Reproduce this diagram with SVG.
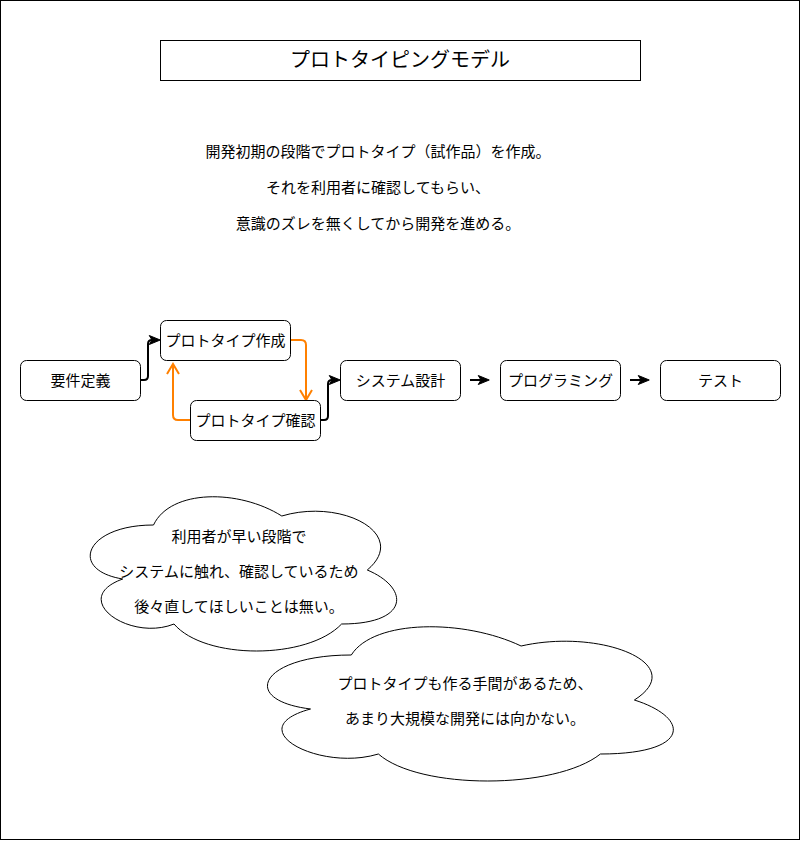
<svg xmlns="http://www.w3.org/2000/svg" width="801" height="841" viewBox="0 0 801 841">
<style>
text{font-family:"Liberation Sans","Noto Sans CJK JP",sans-serif;font-size:15px;fill:#000;text-anchor:middle}
.box{fill:#fff;stroke:#000;stroke-width:1}
.cloud{fill:#fff;stroke:#000;stroke-width:1}
.blk{fill:none;stroke:#000;stroke-width:2}
.org{fill:none;stroke:#FF8000;stroke-width:2}
.title{font-size:20px}
</style>
<defs>
<marker id="ab" markerUnits="userSpaceOnUse" markerWidth="14" markerHeight="12" refX="2.75" refY="4.5" orient="auto" overflow="visible">
<path d="M0,0 L11,4.5 L0,9 L2.75,4.5 Z" fill="#000" stroke="#000" stroke-width="1" stroke-linejoin="miter"/>
</marker>
<marker id="ao" markerUnits="userSpaceOnUse" markerWidth="14" markerHeight="14" refX="10" refY="6" orient="auto" overflow="visible">
<path d="M0,0 L10,6 L0,12" fill="none" stroke="#FF8000" stroke-width="2"/>
</marker>
</defs>
<rect x="0.5" y="0.5" width="799" height="839" fill="#fff" stroke="#000" stroke-width="1"/>

<g id="title">
<rect x="160.5" y="40.5" width="480" height="40" fill="#fff" stroke="#000" stroke-width="1"/>
<text class="title" x="400" y="67">プロトタイピングモデル</text>
</g>

<g id="description">
<text x="378" y="157">開発初期の段階でプロトタイプ（試作品）を作成。</text>
<text x="378" y="193">それを利用者に確認してもらい、</text>
<text x="378" y="229">意識のズレを無くしてから開発を進める。</text>
</g>

<g id="connectors">
<path class="blk" d="M140,380 L144,380 Q148,380 148,376 L148,344 Q148,340 152,340" marker-end="url(#ab)"/>
<path class="org" d="M290,340 L301,340 Q306,340 306,345 L306,400" marker-end="url(#ao)"/>
<path class="org" d="M190,420 L178,420 Q173,420 173,415 L173,364" marker-end="url(#ao)"/>
<path class="blk" d="M320,420 L324,420 Q328,420 328,416 L328,384 Q328,380 332,380" marker-end="url(#ab)"/>
<path class="blk" d="M470,380 L481,380" marker-end="url(#ab)"/>
<path class="blk" d="M630,380 L641,380" marker-end="url(#ab)"/>
</g>

<g id="node-requirements">
<rect class="box" x="20.5" y="360.5" width="120" height="40" rx="6"/>
<text x="80.5" y="386">要件定義</text>
</g>
<g id="node-proto-create">
<rect class="box" x="160.5" y="320.5" width="130" height="40" rx="6"/>
<text x="225.5" y="346">プロトタイプ作成</text>
</g>
<g id="node-proto-check">
<rect class="box" x="190.5" y="400.5" width="130" height="40" rx="6"/>
<text x="255.5" y="426">プロトタイプ確認</text>
</g>
<g id="node-design">
<rect class="box" x="340.5" y="360.5" width="120" height="40" rx="6"/>
<text x="400.5" y="386">システム設計</text>
</g>
<g id="node-programming">
<rect class="box" x="500.5" y="360.5" width="120" height="40" rx="6"/>
<text x="560.5" y="386">プログラミング</text>
</g>
<g id="node-test">
<rect class="box" x="660.5" y="360.5" width="120" height="40" rx="6"/>
<text x="720.5" y="386">テスト</text>
</g>

<g id="cloud-merit">
<path class="cloud" d="M153.5,525 C85.1,525 68,570 122.7,579 C68,598.8 129.6,642 174,624 C204.8,660 307.4,660 341.6,624 C410,624 410,588 367.3,570 C410,534 341.6,498 281.8,516 C239,489 170.6,489 153.5,525 Z"/>
<text x="239" y="542">利用者が早い段階で</text>
<text x="239" y="577">システムに触れ、確認しているため</text>
<text x="239" y="612">後々直してほしいことは無い。</text>
</g>

<g id="cloud-demerit">
<path class="cloud" d="M351.3,655 C260.7,655 238,700 310.5,709 C238,728.8 319.5,772 378.4,754 C419.2,790 555.1,790 600.4,754 C691,754 691,718 634.4,700 C691,664 600.4,628 521.1,646 C464.5,619 373.9,619 351.3,655 Z"/>
<text x="465" y="688.5">プロトタイプも作る手間があるため、</text>
<text x="465" y="724">あまり大規模な開発には向かない。</text>
</g>
</svg>
